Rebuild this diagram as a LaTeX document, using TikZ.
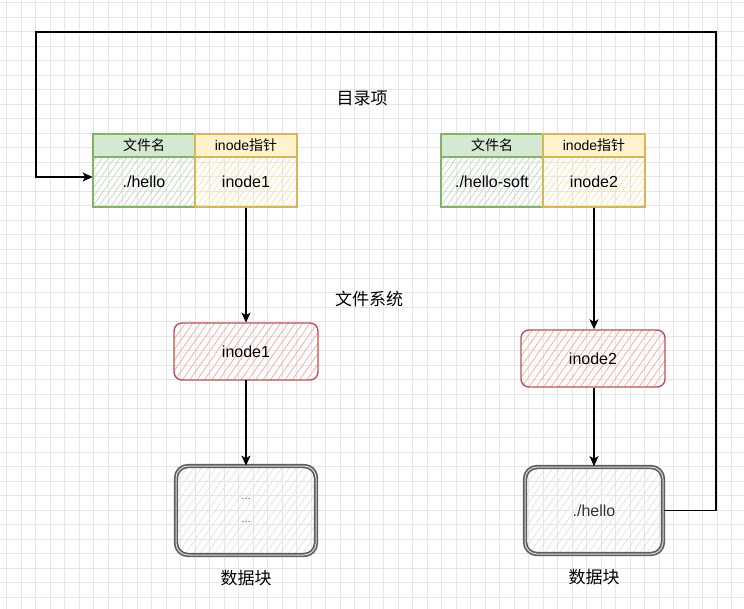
\documentclass[tikz,border=0pt]{standalone}
\usepackage{fontspec}
\setmainfont{Liberation Sans}
\newfontfamily\cjk{Noto Sans CJK SC}
\usetikzlibrary{arrows.meta,patterns.meta}
\definecolor{gfill}{HTML}{D5E8D4}
\definecolor{gline}{HTML}{82B366}
\definecolor{ghatch}{HTML}{BCD9B8}
\definecolor{yfill}{HTML}{FFF2CC}
\definecolor{yline}{HTML}{D6B656}
\definecolor{yhatch}{HTML}{FAE3A6}
\definecolor{rline}{HTML}{B85450}
\definecolor{rhatch}{HTML}{F2B0AC}
\definecolor{dbline}{HTML}{5E5E5E}
\definecolor{dbgap}{HTML}{D8D8D8}
\definecolor{dbhatch}{HTML}{E3E3E3}
\definecolor{gridc}{HTML}{E6E6E6}
\tikzset{
  gridline/.style={draw=gridc, line width=0.7pt},
  hdr/.style={draw, line width=1.2pt, minimum width=102pt, minimum height=23pt, inner sep=0pt, font=\fontsize{14}{16}\selectfont},
  ghdr/.style={hdr, fill=gfill, draw=gline},
  yhdr/.style={hdr, fill=yfill, draw=yline},
  cellbox/.style={draw, line width=1.2pt, minimum width=102pt, minimum height=50pt, inner sep=0pt, font=\fontsize{16}{19}\selectfont},
  gcell/.style={cellbox, draw=gline, pattern={Lines[angle=55,distance=5pt,line width=0.7pt]}, pattern color=ghatch},
  ycell/.style={cellbox, draw=yline, pattern={Lines[angle=55,distance=5pt,line width=0.7pt]}, pattern color=yhatch},
  inodebox/.style={draw=rline, line width=1.4pt, rounded corners=8pt, minimum width=144pt, minimum height=57pt, inner sep=0pt, font=\fontsize{16}{19}\selectfont, pattern={Lines[angle=55,distance=6pt,line width=0.8pt]}, pattern color=rhatch},
  dbbox/.style={draw=dbline, line width=1.7pt, double=dbgap, double distance=1pt, rounded corners=12pt, minimum width=138pt, minimum height=87pt, inner sep=0pt, font=\fontsize{16}{19}\selectfont, text=black!80, pattern={Lines[angle=55,distance=6pt,line width=0.7pt]}, pattern color=dbhatch},
  cjklabel/.style={font=\cjk\fontsize{17}{20}\selectfont, inner sep=0pt},
  arr/.style={-{Stealth[length=10pt,width=9pt,inset=2.5pt]}, line width=1.3pt},
}
\begin{document}
\begin{tikzpicture}[x=1pt,y=-1pt]
\useasboundingbox (0,0) rectangle (744,609);
\fill[white] (0,0) rectangle (744,609);
\foreach \i in {0,...,51} \draw[gridline] ({6.5+14.5*\i},0) -- ({6.5+14.5*\i},609);
\foreach \j in {0,...,41} \draw[gridline] (0,{2.5+14.5*\j}) -- (744,{2.5+14.5*\j});

% labels
\node[cjklabel] (lmulu) at (362,98) {目录项};
\node[cjklabel] (lfs) at (369,299) {文件系统};
\node[cjklabel] (ldb1) at (246,578) {数据块};
\node[cjklabel] (ldb2) at (594,577) {数据块};

% table 1
\node[ghdr] (h1a) at (144,145.5) {\cjk 文件名};
\node[yhdr] (h1b) at (246,145.5) {inode{\cjk 指针}};
\node[gcell] (c1a) at (144,182) {./hello};
\node[ycell] (c1b) at (246,182) {inode1};

% table 2
\node[ghdr] (h2a) at (492,145.5) {\cjk 文件名};
\node[yhdr] (h2b) at (594,145.5) {inode{\cjk 指针}};
\node[gcell] (c2a) at (492,182) {./hello-soft};
\node[ycell] (c2b) at (594,182) {inode2};

% inodes
\node[inodebox] (in1) at (246,351.5) {inode1};
\node[inodebox] (in2) at (593,358.5) {inode2};

% data blocks
\node[dbbox, minimum width=140pt, minimum height=89pt, align=center, font=\fontsize{10}{23}\selectfont] (db1) at (246,510.5) {\ldots\\\ldots};
\node[dbbox] (db2) at (594,510.5) {./hello};

% connectors
\draw[arr] (c1b.south) -- (in1.north);
\draw[arr] (in1.south) -- (db1.north);
\draw[arr] (c2b.south) -- (c2b.south |- in2.north);
\draw[arr] (in2.south -| db2.north) -- (db2.north);

\coordinate (tr) at (716,32);
\coordinate (tl) at (36,32);
\draw[arr] (db2.east) -| (tr) -- (tl) |- ([yshift=5pt]c1a.west);
\end{tikzpicture}
\end{document}
